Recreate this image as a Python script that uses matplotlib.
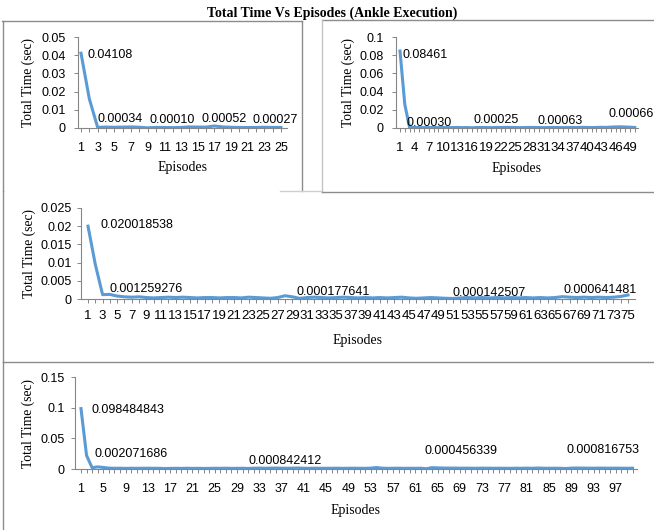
import matplotlib
matplotlib.use("Agg")
import matplotlib.pyplot as plt
from matplotlib.lines import Line2D

# ---- data ----
# 25 episodes
time_25 = [0.04108, 0.016, 0.00034, 0.0005, 0.0004, 0.0005, 0.0006, 0.0004, 0.00010, 0.0003,
           0.0003, 0.0002, 0.0003, 0.0006, 0.00052, 0.0005, 0.0011, 0.0006, 0.0004, 0.0003,
           0.00027, 0.0003, 0.0004, 0.0003, 0.0003]
labels_25 = [(1, "0.04108"), (3, "0.00034"), (9, "0.00010"), (15, "0.00052"), (21, "0.00027")]

# 50 episodes
time_50 = [0.08461, 0.026, 0.00030, 0.0006, 0.0005, 0.0004, 0.0005, 0.0006, 0.0004, 0.0005,
           0.0004, 0.0005, 0.0006, 0.0004, 0.0005, 0.00025, 0.0005, 0.0006, 0.0005, 0.0004,
           0.0006, 0.0005, 0.0007, 0.0006, 0.0005, 0.0004, 0.0005, 0.0006, 0.00063, 0.0005,
           0.0004, 0.0005, 0.0006, 0.0005, 0.0004, 0.0005, 0.0006, 0.0005, 0.0007, 0.0006,
           0.0005, 0.0006, 0.0008, 0.00066, 0.0010, 0.0012, 0.0013, 0.0011, 0.0009, 0.0006]
labels_50 = [(1, "0.08461"), (3, "0.00030"), (16, "0.00025"), (29, "0.00063"), (44, "0.00066")]

# 75 episodes
time_75 = [0.020018538, 0.0095, 0.0012, 0.001259276, 0.0008, 0.0006, 0.0005, 0.0006, 0.0004, 0.0003,
           0.0004, 0.0005, 0.0004, 0.0005, 0.0004, 0.0003, 0.0004, 0.0004, 0.0003, 0.0004,
           0.0004, 0.0003, 0.0005, 0.0004, 0.0003, 0.0002, 0.0004, 0.0009, 0.0006, 0.000177641,
           0.0004, 0.0005, 0.0004, 0.0003, 0.0004, 0.0005, 0.0004, 0.0003, 0.0004, 0.0003,
           0.0004, 0.0003, 0.0004, 0.0005, 0.0003, 0.0002, 0.0003, 0.0004, 0.0003, 0.0002,
           0.000142507, 0.0003, 0.0004, 0.0003, 0.0004, 0.0003, 0.0004, 0.0003, 0.0004, 0.0003,
           0.0004, 0.0003, 0.0004, 0.0003, 0.0004, 0.000641481, 0.0005, 0.0004, 0.0005, 0.0004,
           0.0005, 0.0004, 0.0005, 0.0007, 0.0011]
labels_75 = [(1, "0.020018538"), (4, "0.001259276"), (30, "0.000177641"),
             (51, "0.000142507"), (66, "0.000641481")]

# 100 episodes
time_100 = [0.098484843, 0.022, 0.002071686, 0.0035, 0.0025, 0.0015, 0.0012, 0.0013, 0.0010, 0.0012,
            0.0011, 0.0012, 0.0013, 0.0012, 0.0011, 0.0008, 0.0010, 0.0011, 0.0010, 0.0012,
            0.0010, 0.0011, 0.0009, 0.0010, 0.0012, 0.0011, 0.0013, 0.0010, 0.0011, 0.0012,
            0.000842412, 0.0013, 0.0015, 0.0012, 0.0014, 0.0015, 0.0013, 0.0012, 0.0014, 0.0016,
            0.0012, 0.0011, 0.0013, 0.0012, 0.0011, 0.0012, 0.0013, 0.0011, 0.0012, 0.0013,
            0.0012, 0.0011, 0.0014, 0.0024, 0.0014, 0.0011, 0.0012, 0.0013, 0.0011, 0.0012,
            0.0011, 0.0013, 0.000456339, 0.0022, 0.0018, 0.0016, 0.0014, 0.0015, 0.0013, 0.0014,
            0.0013, 0.0012, 0.0014, 0.0013, 0.0012, 0.0013, 0.0012, 0.0011, 0.0013, 0.0012,
            0.0014, 0.0012, 0.0016, 0.0013, 0.0012, 0.0013, 0.0012, 0.000816753, 0.0014, 0.0016,
            0.0015, 0.0014, 0.0013, 0.0015, 0.0014, 0.0013, 0.0014, 0.0013, 0.0012, 0.0013]
labels_100 = [(1, "0.098484843"), (3, "0.002071686"), (31, "0.000842412"),
              (63, "0.000456339"), (88, "0.000816753")]

yticks_25 = [0, 0.01, 0.02, 0.03, 0.04, 0.05]
yticks_50 = [0, 0.02, 0.04, 0.06, 0.08, 0.1]
yticks_75 = [0, 0.005, 0.01, 0.015, 0.02, 0.025]
yticks_100 = [0, 0.05, 0.1, 0.15]

title = "Total Time Vs Episodes (Ankle Execution)"

# ---- layout (pixels) ----
W, H = 654, 530
SERIF = "Liberation Serif"
SANS = "Liberation Sans"
BLUE = "#5b9bd5"
GRAY = "#868686"
FRAME = "#8c8c8c"

fig = plt.figure(figsize=(W / 100, H / 100), dpi=100)
fig.patch.set_facecolor("white")


def px_axes(l, t, r, b):
    return fig.add_axes([l / W, 1 - b / H, (r - l) / W, (b - t) / H])


def hline(y, x0, x1, color=FRAME):
    fig.add_artist(Line2D([x0 / W, x1 / W], [1 - y / H, 1 - y / H],
                          transform=fig.transFigure, color=color, lw=1.0))


def vline(x, y0, y1, color=FRAME):
    fig.add_artist(Line2D([x / W, x / W], [1 - y0 / H, 1 - y1 / H],
                          transform=fig.transFigure, color=color, lw=1.0))


# box frames
hline(21, 2, 302); vline(2.5, 21, 191); vline(302, 21, 191)
hline(20, 322, 654); vline(322, 20, 192, color="#c4c4c4")
hline(191, 280, 322, color="#cfcfcf")
hline(192, 322, 654); vline(3, 191, 362)
hline(362, 3, 654); vline(3, 362, 530)

fig.text(332 / W, 1 - 17 / H, title, ha="center", va="baseline",
         family=SERIF, fontweight="bold", fontsize=10)

panels = [
    dict(y=time_25, lab=labels_25, yt=yticks_25, box=(78, 37, 287, 128), xlim=(0.64, 25.72),
         step=2, tfs=9, yfs=9, xpad=7, ypad=6, ylx=-0.205, xly=-0.36,
         off=[(6, -5), (0, 5), (2, 5), (4, 5), (5, 5)]),
    dict(y=time_50, lab=labels_50, yt=yticks_50, box=(396, 37, 638, 128), xlim=(0.165, 50.67),
         step=3, tfs=9.5, yfs=9, xpad=7, ypad=6, ylx=-0.17, xly=-0.37,
         off=[(2, -7), (-3, 2), (2, 5), (3, 3), (2, 10)]),
    dict(y=time_75, lab=labels_75, yt=yticks_75, box=(81, 208, 635, 299), xlim=(0.04, 75.96),
         step=2, tfs=9.5, yfs=9, xpad=5, ypad=3.5, ylx=-0.081, xly=-0.38,
         off=[(12, -2), (0, 2), (-3, 3), (0, 2), (1, 4)]),
    dict(y=time_100, lab=labels_100, yt=yticks_100, box=(75, 377, 637, 469), xlim=(-0.075, 100.8),
         step=4, tfs=9, yfs=9, xpad=7, ypad=4.5, ylx=-0.071, xly=-0.38,
         off=[(11, -4), (2, 11), (0, 4), (-2, 15), (1, 15)]),
]

for p in panels:
    ax = px_axes(*p["box"])
    n = len(p["y"])
    episodes = list(range(1, n + 1))
    ax.plot(episodes, p["y"], color=BLUE, lw=2.2, solid_joinstyle="round")

    ax.set_xlim(*p["xlim"])
    ax.set_ylim(p["yt"][0], p["yt"][-1])
    ax.set_xticks(episodes)
    ax.set_xticklabels([str(e) if (e - 1) % p["step"] == 0 else "" for e in episodes],
                       family=SANS, fontsize=p["tfs"])
    ax.set_yticks(p["yt"])
    ax.set_yticklabels(["%g" % v for v in p["yt"]], family=SANS, fontsize=p["yfs"])

    for side in ["top", "right"]:
        ax.spines[side].set_visible(False)
    for side in ["left", "bottom"]:
        ax.spines[side].set_color(GRAY)
        ax.spines[side].set_linewidth(0.8)
    ax.tick_params(axis="x", direction="out", length=3, width=0.7, color=GRAY, pad=p["xpad"])
    ax.tick_params(axis="y", direction="out", length=3, width=0.7, color=GRAY, pad=p["ypad"])
    ax.patch.set_alpha(0)

    ax.set_ylabel("Total Time (sec)", family=SERIF, fontsize=9.8)
    ax.set_xlabel("Episodes", family=SERIF, fontsize=10)
    ax.yaxis.set_label_coords(p["ylx"], 0.5)
    ax.xaxis.set_label_coords(0.5, p["xly"])

    for (ep, txt), (dx, dy) in zip(p["lab"], p["off"]):
        ax.annotate(txt, (ep, p["y"][ep - 1]), xytext=(dx, dy), textcoords="offset pixels",
                    ha="left", va="baseline", family=SANS, fontsize=9,
                    annotation_clip=False)

fig.savefig("out.png", dpi=100)
